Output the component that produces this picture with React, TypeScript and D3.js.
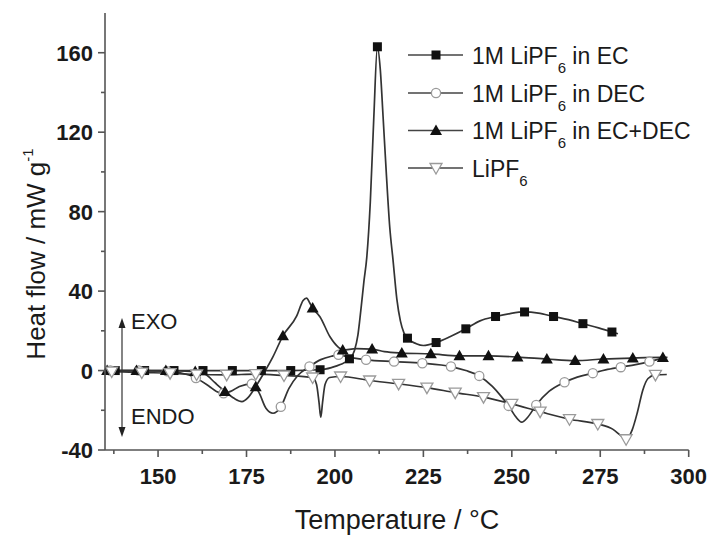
import React from "react";
import * as d3 from "d3";

// ---------- data (temperature °C, heat flow mW/g) ----------
const ecMarkers: [number, number][] = [
  [137.9, 0], [146.2, 0], [154.5, 0], [162.7, 0], [171, 0], [179.2, 0], [187.5, 0], [195.8, 0.4],
  [204.1, 5.9], [212, 163], [220.5, 16.3], [228.6, 14.1], [237, 21], [245.4, 27.2], [253.6, 29.5],
  [261.8, 27.2], [270.1, 23.6], [278.3, 19.4],
];
const ecExtra: [number, number][] = [
  [135, 0], [199, 1.5], [201.5, 3], [205.5, 10], [206.5, 18], [207.3, 30], [208.2, 45], [209, 57],
  [210, 85], [211, 128], [212.8, 152], [213.6, 128], [214.5, 100], [215.5, 72], [216.4, 56],
  [217.5, 36], [218.5, 25], [219.5, 19], [223, 13.5], [225, 12.6], [232.5, 17], [241, 25],
  [249.5, 28.7], [257.5, 28.9], [266, 25.6], [274.5, 21.5], [280, 18.5],
];

const ecdecMarkers: [number, number][] = [
  [135.6, 0], [143.9, 0], [152.2, 0], [160.5, -0.5], [168.9, -10.5], [177.6, -8.1], [185.3, 17.5],
  [193.7, 31.5], [202.2, 10.4], [210.5, 10.8], [218.9, 8.8], [227.1, 8.4], [235.2, 7.4],
  [243.4, 7.4], [251.6, 6.8], [259.9, 5.8], [267.9, 5], [275.9, 5.8], [284.2, 6.3], [292.7, 6.6],
];
const ecdecExtra: [number, number][] = [
  [163.5, -2], [166, -6], [171.5, -14], [173.7, -15.6], [175.5, -13.5], [180, -1], [182.5, 7],
  [189.2, 27.5], [191, 35.3], [192, 36.5], [192.9, 34], [195.8, 27], [198.6, 17], [201, 11.7],
  [206, 11], [214, 9.5], [294, 6.6],
];

const decMarkers: [number, number][] = [
  [136.5, 0], [144.5, 0], [152.5, -0.3], [160.7, -3.8], [168.5, -11.4], [176.5, -6.7],
  [184.7, -18.2], [192.8, 2], [201, 7.9], [208.8, 5.4], [216.7, 4.5], [224.7, 3.7], [232.8, 2],
  [240.8, -2.7], [249.1, -17.8], [256.9, -17.3], [264.9, -5.9], [272.9, -1.3], [280.8, 1.7],
  [288.9, 4.5],
];
const decExtra: [number, number][] = [
  [135, 0], [156, -1], [164.5, -8], [166.5, -10.5], [170.5, -10.5], [173, -8], [178.5, -11],
  [180.5, -19], [182.5, -21.5], [187, -9], [189.5, -2.5], [196, 5.5], [199, 7.2], [204.5, 6.5],
  [237, 0], [244.5, -8], [247, -13], [251, -23], [252.8, -26], [254.5, -23.5], [260.5, -10.5],
  [268.5, -3.3], [276.5, 0.3], [285, 3], [292.8, 6.4],
];

const lipfMarkers: [number, number][] = [
  [136.9, -0.5], [145.4, -1], [153.4, -1.3], [160.9, -2], [169.4, -2.2], [177.6, -1.8],
  [185.6, -2.5], [193.7, -3.5], [201.6, -3], [209.8, -5], [218, -6.7], [226, -8.6], [234, -11.1],
  [242, -13.4], [250, -16.8], [258, -20.7], [266.3, -24.5], [274.3, -26.9], [282.3, -34.6],
  [290.6, -2.2],
];
const lipfExtra: [number, number][] = [
  [135, -0.4], [194.8, -7], [195.5, -16], [196, -23.5], [196.5, -16], [197.2, -7], [198.5, -3.5],
  [278.5, -29.5], [281, -33], [284, -30], [285.5, -21], [287, -10], [288.5, -4], [293.8, -2],
];

const xTicks = [150, 175, 200, 225, 250, 275, 300];
const xMinor = [137.5, 162.5, 187.5, 212.5, 237.5, 262.5, 287.5];
const yTicks = [-40, 0, 40, 80, 120, 160];
const yMinor = [-20, 20, 60, 100, 140];

type Kind = "square" | "circle" | "triangle" | "down";
const series: { name: string; sub: string; tail: string; kind: Kind; markers: [number, number][]; extra: [number, number][] }[] = [
  { name: "1M LiPF", sub: "6", tail: " in EC", kind: "square", markers: ecMarkers, extra: ecExtra },
  { name: "1M LiPF", sub: "6", tail: " in DEC", kind: "circle", markers: decMarkers, extra: decExtra },
  { name: "1M LiPF", sub: "6", tail: " in EC+DEC", kind: "triangle", markers: ecdecMarkers, extra: ecdecExtra },
  { name: "LiPF", sub: "6", tail: "", kind: "down", markers: lipfMarkers, extra: lipfExtra },
];

const FONT = "'Liberation Sans', Arial, Helvetica, sans-serif";

function Marker({ kind, cx, cy }: { kind: Kind; cx: number; cy: number }) {
  if (kind === "square")
    return <rect x={cx - 4.5} y={cy - 4.5} width={9} height={9} fill="#111" />;
  if (kind === "circle")
    return <circle cx={cx} cy={cy} r={4.6} fill="#fff" stroke="#9a9a9a" strokeWidth={1.3} />;
  if (kind === "triangle")
    return <path d={`M${cx},${cy - 6} L${cx + 6},${cy + 4.5} L${cx - 6},${cy + 4.5} Z`} fill="#111" />;
  return (
    <path d={`M${cx - 6},${cy - 4.5} L${cx + 6},${cy - 4.5} L${cx},${cy + 6} Z`} fill="#fff" stroke="#9a9a9a" strokeWidth={1.3} />
  );
}

export default function App() {
  const x = d3.scaleLinear().domain([135, 300]).range([105, 688.7]);
  const y = d3.scaleLinear().domain([-40, 180]).range([450, 13]);
  const line = d3
    .line<[number, number]>()
    .x((d) => x(d[0]))
    .y((d) => y(d[1]))
    .curve(d3.curveMonotoneX);

  const legendY = [55, 93, 130.5, 168];

  return (
    <svg width={711} height={536} style={{ position: "absolute", left: 0, top: 0, background: "#fff" }} fontFamily={FONT}>
      <rect width={711} height={536} fill="#fff" />
      {/* curves */}
      {series.map((s, i) => {
        const pts = [...s.markers, ...s.extra].sort((a, b) => a[0] - b[0]);
        return <path key={"l" + i} d={line(pts) || ""} fill="none" stroke="#333" strokeWidth={1.7} />;
      })}
      {series.map((s, i) => (
        <g key={"m" + i}>
          {s.markers.map((d, j) => (
            <Marker key={j} kind={s.kind} cx={x(d[0])} cy={y(d[1])} />
          ))}
        </g>
      ))}

      {/* axes */}
      <g stroke="#555" strokeWidth={1.6}>
        <line x1={105} x2={105} y1={y(180)} y2={450} />
        <line x1={105} x2={x(300)} y1={450} y2={450} />
        {yTicks.map((t) => (
          <line key={"yt" + t} x1={98} x2={105} y1={y(t)} y2={y(t)} />
        ))}
        {yMinor.map((t) => (
          <line key={"ym" + t} x1={101} x2={105} y1={y(t)} y2={y(t)} />
        ))}
        {xTicks.map((t) => (
          <line key={"xt" + t} x1={x(t)} x2={x(t)} y1={450} y2={457} />
        ))}
        {xMinor.map((t) => (
          <line key={"xm" + t} x1={x(t)} x2={x(t)} y1={450} y2={454} />
        ))}
      </g>
      {yTicks.map((t) => (
        <text key={"yl" + t} x={93} y={y(t) + 8} textAnchor="end" fontSize={22} fontWeight="bold" fill="#1a1a1a">
          {t}
        </text>
      ))}
      {xTicks.map((t) => (
        <text key={"xl" + t} x={x(t)} y={484} textAnchor="middle" fontSize={22} fontWeight="bold" fill="#1a1a1a">
          {t}
        </text>
      ))}

      {/* axis titles */}
      <text x={397} y={529} textAnchor="middle" fontSize={27} fill="#1a1a1a">
        Temperature / °C
      </text>
      <text transform="translate(45,254) rotate(-90)" textAnchor="middle" fontSize={26} fill="#1a1a1a">
        Heat flow / mW g<tspan fontSize={15} dy={-12}>-1</tspan>
      </text>

      {/* EXO / ENDO arrow */}
      <g stroke="#333" strokeWidth={1.2}>
        <line x1={122} x2={122} y1={324} y2={431} />
      </g>
      <path d="M122,318 L118.5,328 L125.5,328 Z" fill="#222" />
      <path d="M122,437 L118.5,427 L125.5,427 Z" fill="#222" />
      <text x={131} y={329} fontSize={22} fill="#1a1a1a">EXO</text>
      <text x={131} y={424} fontSize={22} fill="#1a1a1a">ENDO</text>

      {/* legend */}
      {series.map((s, i) => (
        <g key={"lg" + i}>
          <line x1={408} x2={463} y1={legendY[i]} y2={legendY[i]} stroke="#444" strokeWidth={1.7} />
          <Marker kind={s.kind} cx={436} cy={legendY[i]} />
          <text x={472} y={legendY[i] + 8.5} fontSize={23} fill="#1a1a1a">
            {s.name}
            <tspan fontSize={15} dy={9}>{s.sub}</tspan>
            <tspan dy={-9}>{s.tail}</tspan>
          </text>
        </g>
      ))}
    </svg>
  );
}
